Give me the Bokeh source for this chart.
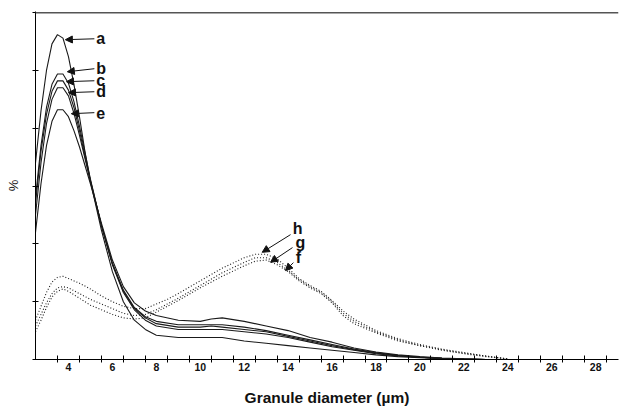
from bokeh.plotting import figure
from bokeh.models import FixedTicker, Span, Arrow, NormalHead, Range1d, Label
from bokeh.embed import file_html
from bokeh.resources import INLINE

# ---- data -----------------------------------------------------------------
x_solid = [2.5, 2.75, 3.0, 3.25, 3.5, 3.75, 4.0, 4.25, 4.5, 4.75, 5.0, 5.5, 6.0, 6.5,
           7.0, 7.5, 8.0, 9.0, 10.0, 10.5, 11.0, 12.0, 13.0, 14.0, 15.0, 16.0, 17.0,
           18.0, 19.0, 20.0, 21.0, 22.0, 23.0]
curve_a = [17.0, 21.5, 25.0, 27.3, 28.1, 27.8, 26.2, 23.8, 21.0, 18.0, 15.4, 11.2, 7.6, 5.0,
           3.4, 2.6, 2.1, 1.9, 1.9, 1.9, 1.9, 1.6, 1.4, 1.2, 1.0, 0.8, 0.6,
           0.4, 0.25, 0.15, 0.07, 0.02, 0.0]
curve_b = [14.0, 18.5, 21.8, 23.8, 24.7, 24.7, 23.9, 22.3, 20.2, 17.9, 15.6, 11.6, 8.2, 5.8,
           4.3, 3.4, 2.9, 2.6, 2.6, 2.6, 2.6, 2.4, 2.2, 1.9, 1.5, 1.1, 0.8,
           0.5, 0.3, 0.2, 0.1, 0.04, 0.0]
curve_c = [13.5, 18.0, 21.2, 23.2, 24.1, 24.1, 23.3, 21.8, 19.8, 17.6, 15.5, 11.6, 8.3, 5.9,
           4.4, 3.6, 3.1, 2.8, 2.8, 2.9, 2.8, 2.6, 2.4, 2.0, 1.6, 1.2, 0.85,
           0.55, 0.35, 0.2, 0.1, 0.04, 0.0]
curve_d = [12.5, 17.0, 20.4, 22.5, 23.5, 23.5, 22.8, 21.3, 19.4, 17.4, 15.4, 11.6, 8.3, 6.0,
           4.5, 3.7, 3.3, 3.0, 3.0, 3.0, 3.0, 2.8, 2.5, 2.1, 1.7, 1.3, 0.9,
           0.6, 0.35, 0.2, 0.1, 0.05, 0.0]
curve_e = [11.0, 15.2, 18.5, 20.6, 21.6, 21.6, 21.0, 19.8, 18.4, 16.8, 15.2, 11.8, 8.6, 6.3,
           4.9, 4.2, 3.8, 3.4, 3.3, 3.5, 3.6, 3.3, 2.9, 2.5, 1.9, 1.5, 1.0,
           0.65, 0.4, 0.25, 0.12, 0.05, 0.0]

x_dotted = [2.5, 2.75, 3.0, 3.25, 3.5, 3.75, 4.0, 4.5, 5.0, 5.5, 6.0, 6.5, 7.0, 7.5, 8.0,
            8.5, 9.0, 10.0, 11.0, 12.0, 12.5, 13.0, 13.5, 14.0, 14.5, 15.0, 15.5, 16.0,
            16.5, 17.0, 18.0, 19.0, 20.0, 21.0, 22.0, 23.0, 24.0]
curve_h = [3.4, 4.6, 5.8, 6.7, 7.1, 7.2, 7.0, 6.6, 6.1, 5.5, 5.0, 4.6, 4.4, 4.4, 4.8,
           5.2, 5.7, 6.8, 7.9, 8.8, 9.1, 9.1, 8.7, 7.9, 7.0, 6.4, 5.9, 5.1,
           4.2, 3.5, 2.5, 1.8, 1.3, 0.9, 0.6, 0.3, 0.05]
curve_g = [2.9, 3.9, 4.9, 5.7, 6.2, 6.3, 6.2, 5.7, 5.2, 4.8, 4.4, 4.0, 3.8, 3.9, 4.3,
           4.8, 5.3, 6.4, 7.5, 8.4, 8.8, 8.8, 8.4, 7.7, 6.9, 6.3, 5.8, 5.0,
           4.0, 3.3, 2.4, 1.7, 1.2, 0.85, 0.55, 0.3, 0.05]
curve_f = [2.4, 3.4, 4.5, 5.4, 5.9, 6.1, 5.9, 5.3, 4.7, 4.3, 3.9, 3.6, 3.5, 3.6, 4.1,
           4.6, 5.1, 6.2, 7.2, 8.1, 8.5, 8.6, 8.2, 7.6, 6.8, 6.2, 5.7, 4.9,
           3.8, 3.1, 2.3, 1.6, 1.2, 0.8, 0.5, 0.25, 0.05]

x_tick_labels = [4, 6, 8, 10, 12, 14, 16, 18, 20, 22, 24, 26, 28]
x_tick_marks = [3.5 + i for i in range(26)]
y_tick_marks = [0, 5, 10, 15, 20, 25, 30]

# annotation placement: (label, text x, text y, arrow start x, y, arrow tip x, y)
solid_labels = [
    ("a", 5.27, 27.74, 5.18, 27.74, 3.86, 27.66),
    ("b", 5.27, 25.15, 5.18, 25.15, 3.95, 24.89),
    ("c", 5.27, 24.11, 5.18, 24.11, 3.91, 24.03),
    ("d", 5.27, 23.16, 5.18, 23.16, 4.00, 23.08),
    ("e", 5.27, 21.35, 5.18, 21.35, 4.13, 21.26),
]
dotted_labels = [
    ("h", 14.43, 11.32, 14.11, 10.80, 12.82, 9.27),
    ("g", 14.56, 10.11, 14.20, 9.68, 13.20, 8.41),
    ("f", 14.47, 8.82, 14.24, 8.38, 13.88, 7.69),
]

# ---- figure ---------------------------------------------------------------
p = figure(width=619, height=410, output_backend="svg", toolbar_location=None,
           x_range=Range1d(2.5, 29.04), y_range=Range1d(0, 30.1),
           min_border_left=35, min_border_right=1, min_border_top=11,
           min_border_bottom=51)
p.xgrid.visible = False
p.ygrid.visible = False
p.outline_line_color = None
p.background_fill_color = "white"

for ys in [curve_a, curve_b, curve_c, curve_d, curve_e]:
    p.line(x_solid, ys, line_color="#1a1a1a", line_width=1.1)
for ys in [curve_h, curve_g, curve_f]:
    p.line(x_dotted, ys, line_color="#1a1a1a", line_width=1.1, line_dash="1 2")

p.add_layout(Span(location=30, dimension="width", line_color="#555555", line_width=1.5))

font = "Liberation Sans"
for lab, tx, ty, sx, sy, ex, ey in solid_labels + dotted_labels:
    p.add_layout(Arrow(end=NormalHead(size=7, fill_color="#111111", line_color="#111111", line_width=1),
                       x_start=sx, y_start=sy, x_end=ex, y_end=ey,
                       line_color="#111111", line_width=1))
for lab, tx, ty, sx, sy, ex, ey in solid_labels:
    p.add_layout(Label(x=tx, y=ty, text=lab, text_font=font, text_font_size="16px",
                       text_font_style="bold", text_align="left", text_baseline="middle",
                       text_color="#111111"))
for lab, tx, ty, sx, sy, ex, ey in dotted_labels:
    p.add_layout(Label(x=tx, y=ty, text=lab, text_font=font, text_font_size="16px",
                       text_font_style="bold", text_align="center", text_baseline="middle",
                       text_color="#111111"))

xa = p.xaxis[0]
xa.ticker = FixedTicker(ticks=x_tick_labels, minor_ticks=x_tick_marks)
xa.major_tick_in = 0
xa.major_tick_out = 0
xa.minor_tick_in = 4
xa.minor_tick_out = 3
xa.minor_tick_line_color = "black"
xa.axis_line_color = "black"
xa.major_label_text_font = font
xa.major_label_text_font_style = "bold"
xa.major_label_text_font_size = "10.5px"
xa.major_label_text_color = "#111111"
xa.major_label_standoff = 0
xa.axis_label = "Granule diameter (\u00b5m)"
xa.axis_label_text_font = font
xa.axis_label_text_font_style = "bold"
xa.axis_label_text_font_size = "15.5px"
xa.axis_label_text_color = "#111111"
xa.axis_label_standoff = 15

ya = p.yaxis[0]
ya.ticker = FixedTicker(ticks=y_tick_marks, minor_ticks=[])
ya.major_tick_in = 3
ya.major_tick_out = 3
ya.minor_tick_in = 0
ya.minor_tick_out = 0
ya.major_label_overrides = {t: "" for t in y_tick_marks}
ya.major_label_standoff = 0
ya.axis_line_color = "black"
ya.axis_label = "%"
ya.axis_label_text_font = font
ya.axis_label_text_font_style = "normal"
ya.axis_label_text_font_size = "13px"
ya.axis_label_text_color = "#111111"
ya.axis_label_standoff = 12

open("out.html", "w").write(file_html(p, INLINE))
